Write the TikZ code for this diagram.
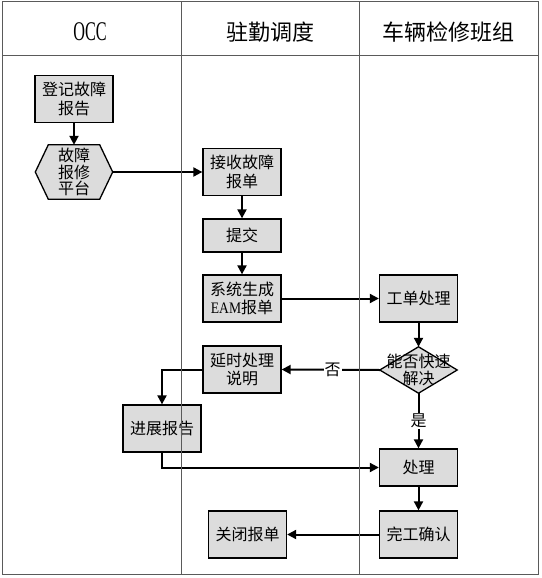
\documentclass[tikz,border=0pt]{standalone}
\usepackage{fontspec}
\setmainfont{Liberation Serif}
\newfontfamily\cjk{Noto Sans CJK SC}
\usetikzlibrary{arrows.meta, backgrounds}
\definecolor{boxgray}{RGB}{220,220,220}
\definecolor{lanegray}{RGB}{90,90,90}

\begin{document}
\begin{tikzpicture}[x=1pt, y=-1pt,
    task/.style={draw, fill=boxgray, line width=1.3pt, minimum width=78pt,
      minimum height=47pt, inner sep=1pt, align=center,
      font=\cjk\fontsize{16}{18.5}\selectfont},
    shapetext/.style={minimum width=77pt, inner sep=0pt, align=center,
      font=\cjk\fontsize{16}{16.5}\selectfont},
    flow/.style={-{Triangle[length=9pt, width=9pt]}, line width=2pt},
    lane/.style={draw=lanegray, line width=1pt},
    head/.style={font=\cjk\fontsize{22}{26}\selectfont},
    tag/.style={fill=white, inner sep=1pt, font=\cjk\fontsize{16}{18}\selectfont}]
    \useasboundingbox (0, 0) rectangle (541, 578);

    % lane titles
    \node [head] (occ) at (90, 32) {\rmfamily\fontsize{27}{30}\selectfont\scalebox{0.6}[1]{OCC}};
    \node [head] (depot) at (270, 32) {驻勤调度};
    \node [head] (crew) at (448, 32) {车辆检修班组};

    % boxes
    \node [task] (report) at (74, 99) {登记故障\\报告};
    \node [shapetext, minimum height=54pt] (platform) at (74, 172) {故障\\报修\\平台};
    \node [task] (receive) at (242, 172) {接收故障\\报单};
    \node [task, minimum height=33pt] (submit) at (242, 235.5) {提交};
    \node [task] (eam) at (242, 298.5) {系统生成\\{\rmfamily\scalebox{0.85}[1]{EAM}}报单};
    \node [task] (workorder) at (418.5, 298.5) {工单处理};
    \node [shapetext, minimum height=46pt] (decide) at (418.5, 370) {能否快速\\解决};
    \node [task] (delay) at (242, 369.5) {延时处理\\说明};
    \node [task] (progress) at (162, 428.5) {进展报告};
    \node [task, minimum height=37pt] (handle) at (418.5, 467.5) {处理};
    \node [task] (confirm) at (418.5, 534.5) {完工确认};
    \node [task] (close) at (247.5, 534.5) {关闭报单};

    \begin{pgfonlayer}{background}
      \filldraw [fill=boxgray, line width=1.3pt] (platform.west)
        -- ([xshift=13pt]platform.north west) -- ([xshift=-13pt]platform.north east)
        -- (platform.east)
        -- ([xshift=-13pt]platform.south east) -- ([xshift=13pt]platform.south west)
        -- cycle;
      \filldraw [fill=boxgray, line width=1.3pt] (decide.west) -- (decide.north)
        -- (decide.east) -- (decide.south) -- cycle;
    \end{pgfonlayer}

    % arrows
    \draw [flow] (report) to (platform);
    \draw [flow] (platform.east) to (receive.west);
    \draw [flow] (receive) to (submit);
    \draw [flow] (submit) to (eam);
    \draw [flow] (eam.east) to (workorder.west);
    \draw [flow] (workorder) to (decide);
    \draw [flow] (decide.west) to node [tag, pos=0.48] (no) {否} (delay.east);
    \draw [flow] (delay.west) -| (progress.north);
    \draw [flow] (decide.south) to node [tag] (yes) {是} (handle.north);
    \draw [flow] (progress.south) |- (handle.west);
    \draw [flow] (handle) to (confirm);
    \draw [flow] (confirm.west) to (close.east);

    % frame and lanes
    \draw [lane] (2, 2) rectangle (538, 574);
    \draw [lane] (2, 56) to (538, 56);
    \draw [lane] (181, 2) to (181, 574);
    \draw [lane] (359, 2) to (359, 574);
\end{tikzpicture}
\end{document}
